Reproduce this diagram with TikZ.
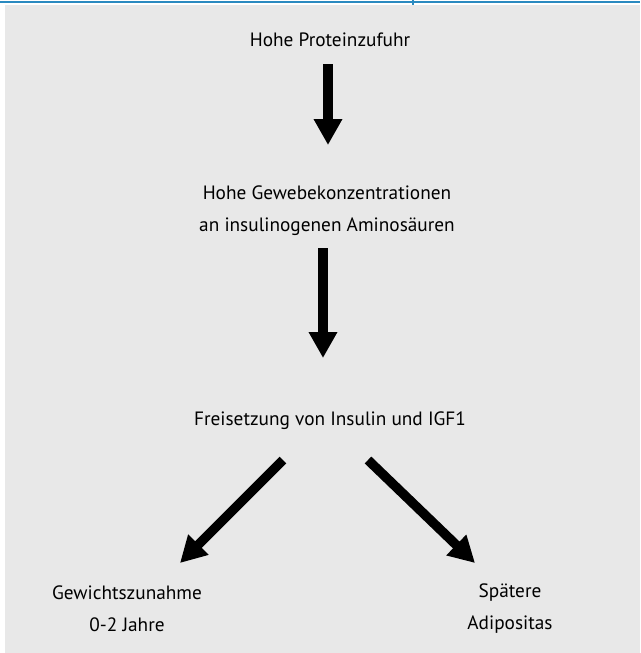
\documentclass[tikz,border=0pt]{standalone}
\usepackage{fontspec}
\setmainfont{PT Sans}
\usetikzlibrary{arrows.meta}
\definecolor{bg}{HTML}{E8E8E8}
\definecolor{topline}{HTML}{2A8AC0}
\begin{document}
\begin{tikzpicture}[x=1pt,y=-1pt,
  lbl/.style={inner sep=0pt,align=center,font=\fontsize{19.3}{32}\selectfont},
  bigarrow/.style={line width=9.5pt,-{Triangle[width=27pt,length=26pt]}}]
\useasboundingbox (0,0) rectangle (640,653);
\fill[white] (0,0) rectangle (640,653);
\fill[bg] (5,5) rectangle (640,653);
\draw[topline,line width=2pt] (0,2) -- (640,2);
\draw[topline,line width=1.5pt] (413,0) -- (413,5);
\node[lbl] (n1) at (330,40) {Hohe Proteinzufuhr};
\node[lbl] (n2) at (327,211) {Hohe Gewebekonzentrationen\\an insulinogenen Aminosäuren};
\node[lbl] (n3) at (330,421) {Freisetzung von Insulin und IGF1};
\node[lbl] (n4) at (127,609) {Gewichtszunahme\\0-2 Jahre};
\node[lbl] (n5) at (510,609) {Spätere\\Adipositas};
\coordinate (a1s) at (328,64);
\coordinate (a1e) at (328,145);
\coordinate (a2s) at (323,248);
\coordinate (a2e) at (323,358);
\coordinate (a3s) at (283,460);
\coordinate (a3e) at (180,563);
\coordinate (a4s) at (368,460);
\coordinate (a4e) at (475,563);
\draw[bigarrow] (a1s) -- (a1e);
\draw[bigarrow] (a2s) -- (a2e);
\draw[bigarrow] (a3s) -- (a3e);
\draw[bigarrow] (a4s) -- (a4e);
\end{tikzpicture}
\end{document}
